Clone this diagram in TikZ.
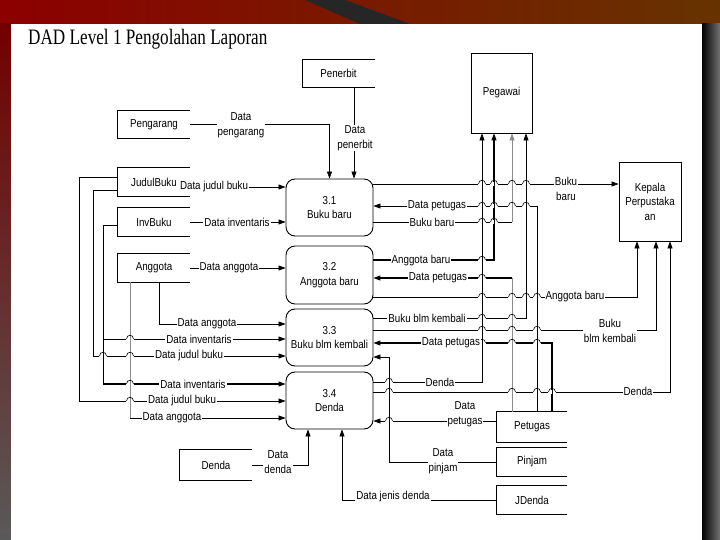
\documentclass[tikz,border=0pt]{standalone}
\usepackage{fontspec}
\newfontfamily\dfdfont[FakeStretch=0.85]{Liberation Sans}
\newfontfamily\titlefont[FakeStretch=0.78]{Liberation Serif}
\newcommand{\dfd}{\dfdfont\fontsize{11.5}{14.5}\selectfont}
\usetikzlibrary{arrows.meta}
\newcommand{\openside}[2][line width=0.8pt]{%
  \draw[#1] (#2.north east) -- (#2.north west) -- (#2.south west) -- (#2.south east);}
\newcommand{\hop}[3][black]{%
  \fill[white] (#2-4,#3-1.6) rectangle (#2+4,#3+1.6);
  \draw[#1,line width=0.6pt] (#2,#3-5) -- (#2,#3+5);
  \draw[line width=0.6pt] (#2-3.5,#3) .. controls (#2-3.5,#3-5) and (#2+3.5,#3-5) .. (#2+3.5,#3);}

\begin{document}
\begin{tikzpicture}[x=1pt,y=-1pt,
  proc/.style={draw,line width=0.9pt,rounded corners=9pt,minimum width=87pt,minimum height=57pt,inner sep=2pt,align=center,font=\dfd},
  ent/.style={draw,line width=0.8pt,align=center,font=\dfd},
  store/.style={minimum width=72pt,minimum height=28pt,font=\dfd},
  lbl/.style={fill=white,inner sep=1pt,align=center,font=\dfd},
  link/.style={line width=0.6pt},
  flow/.style={line width=0.6pt,-{Triangle[length=7pt,width=5pt]}},
  faint/.style={black!45}]
  \useasboundingbox (0,0) rectangle (720,540);
  \fill[black!80] (0,0) rectangle (720,540);
  \shade[left color=red!55!black,right color=orange!40!black] (0,0) rectangle (720,24);
  \fill[black!85] (305,0) -- (345,0) -- (410,24) -- (360,24) -- cycle;
  \shade[top color=red!45!black,bottom color=black!65] (0,24) rectangle (11,540);
  \shade[left color=black,right color=black!55] (702,24) rectangle (720,540);
  \fill[white] (11,24) rectangle (702,540);

  \node[anchor=base west,inner sep=0pt,font=\titlefont\fontsize{22}{24}\selectfont] (title) at (28,45) {DAD Level 1 Pengolahan Laporan};

  \node[store] (penerbit) at (338.5,73.5) {Penerbit};
  \node[store] (pengarang) at (154,124.5) {Pengarang};
  \node[store] (judulbuku) at (154,182) {JudulBuku};
  \node[store] (invbuku) at (154,222) {InvBuku};
  \node[store] (anggota) at (154,268) {Anggota};
  \node[store,minimum height=30pt] (denda) at (216,465) {Denda};
  \node[store,minimum width=70pt,minimum height=30pt] (petugas) at (532,427) {Petugas};
  \node[store,minimum width=70pt] (pinjam) at (532,462) {Pinjam};
  \node[store,minimum width=70pt] (jdenda) at (532,500) {JDenda};
  \node[ent,minimum width=61pt,minimum height=80pt] (pegawai) at (501.5,93) {Pegawai};
  \node[ent,minimum width=62pt,minimum height=79pt] (kepala) at (650,201.5) {Kepala\\Perpustaka\\an};
  \node[proc] (p31) at (329.5,207.5) {3.1\\Buku baru};
  \node[proc,minimum height=58pt] (p32) at (329.5,275) {3.2\\Anggota baru};
  \node[proc] (p33) at (329.5,337.5) {3.3\\Buku blm kembali};
  \node[proc] (p34) at (329.5,400.5) {3.4\\Denda};
  \openside{penerbit}
  \openside{pengarang}
  \openside[line width=1.3pt]{judulbuku}
  \openside{invbuku}
  \openside{anggota}
  \openside{denda}
  \openside[line width=1.3pt]{petugas}
  \openside{pinjam}
  \openside{jdenda}

  \coordinate (bj1) at (79,0);
  \coordinate (bj2) at (93,0);
  \coordinate (bi) at (103,0);
  \coordinate (ba1) at (130,0);
  \coordinate (ba2) at (159,0);
  \coordinate (pn) at (354,0);
  \coordinate (pg1) at (482,0);
  \coordinate (pg2) at (494,0);
  \coordinate (pg3) at (512,0);
  \coordinate (pg4) at (526,0);
  \coordinate (pt1) at (537,0);
  \coordinate (pt2) at (552,0);
  \coordinate (kp1) at (637,0);
  \coordinate (kp2) at (656,0);
  \coordinate (kp3) at (670,0);
  \coordinate (pj) at (389,0);
  \coordinate (dd) at (308,0);
  \coordinate (jd) at (342,0);

  \draw[flow] (pengarang.east) -| (p31.north);
  \draw[flow] (penerbit.south -| pn) -- (p31.north -| pn);
  \draw[flow] (judulbuku.east |- 0,187) -- (p31.west |- 0,187);
  \draw[flow] (invbuku.east) -- (p31.west |- invbuku.east);
  \draw[flow] (anggota.east) -- (p32.west |- anggota.east);
  \draw[flow] (anggota.south -| ba2) |- (p33.west |- 0,324);
  \draw[flow] (invbuku.west |- 0,225) -| (bi |- 0,339) -- (p33.west |- 0,339);
  \draw[flow] (judulbuku.west |- 0,190) -| (bj2 |- 0,356) -- (p33.west |- 0,356);
  \draw[link] (invbuku.west |- 0,225) -| (bi |- 0,384);
  \draw[flow,line width=1.1pt] (bi |- 0,384) -- (p34.west |- 0,384);
  \draw[flow] (judulbuku.west |- 0,177) -| (bj1 |- 0,401) -- (p34.west |- 0,401);
  \draw[link,faint] (anggota.south -| ba1) -- (ba1 |- 0,418);
  \draw[flow] (ba1 |- 0,418) -- (p34.west |- 0,418);

  \draw[flow] (p31.east |- 0,184) -- (kepala.west |- 0,184);
  \draw[flow] (petugas.north -| pt1) |- (p31.east |- 0,206);
  \draw[link] (p31.east |- 0,222) -- (pg3 |- 0,222);
  \draw[flow,faint] (pg3 |- 0,222) -- (pegawai.south -| pg3);
  \draw[flow,line width=1.1pt] (p32.east |- 0,260) -| (pegawai.south -| pg2);
  \draw[link,faint] (petugas.north -| pg3) -- (pg3 |- 0,278);
  \draw[flow,line width=1.1pt] (pg3 |- 0,278) -- (p32.east |- 0,278);
  \draw[flow] (p32.east |- 0,297) -| (kepala.south -| kp1);
  \draw[flow] (p33.east |- 0,318) -| (pegawai.south -| pg4);
  \draw[flow] (p33.east |- 0,330) -| (kepala.south -| kp2);
  \draw[flow,line width=1.1pt] (petugas.north -| pt2) |- (p33.east |- 0,343);
  \draw[flow] (pinjam.west) -| (pj |- 0,357) -- (p33.east |- 0,357);
  \draw[flow] (p34.east |- 0,382) -| (pegawai.south -| pg1);
  \draw[flow] (p34.east |- 0,392) -| (kepala.south -| kp3);
  \draw[flow] (petugas.west |- 0,421) -- (p34.east |- 0,421);
  \draw[flow] (denda.east) -| (p34.south -| dd);
  \draw[flow] (jdenda.west) -| (p34.south -| jd);

  \foreach \x/\y in {482/184,494/184,526/184,482/206,494/206,526/206,482/222,494/222,
    482/260,482/278,482/297,526/297,537/297,482/318,482/330,537/330,482/343,537/343,
    389/382,389/392,537/392,552/392,389/421,103/356}
    {\hop{\x}{\y}}
  \foreach \x/\y in {512/184,512/206,512/297,512/318,512/330,512/343,512/392,
    130/339,130/356,130/384,130/401}
    {\hop[faint]{\x}{\y}}

  \node[lbl] (lpengarang) at (241,125) {Data\\pengarang};
  \node[lbl] (lpenerbit) at (355,138) {Data\\penerbit};
  \node[lbl] (ljudul1) at (214,187) {Data judul buku};
  \node[lbl] (linv1) at (237,222) {Data inventaris};
  \node[lbl] (lang1) at (229,268) {Data anggota};
  \node[lbl] (lang2) at (207,324) {Data anggota};
  \node[lbl] (linv2) at (199,339) {Data inventaris};
  \node[lbl] (ljudul2) at (189,356) {Data judul buku};
  \node[lbl] (linv3) at (193,384) {Data inventaris};
  \node[lbl] (ljudul3) at (182,401) {Data judul buku};
  \node[lbl] (lang3) at (172,418) {Data anggota};
  \node[lbl] (lbaru1) at (566,189) {Buku\\baru};
  \node[lbl] (lpet1) at (437,206) {Data petugas};
  \node[lbl] (lbaru2) at (432,222) {Buku baru};
  \node[lbl] (lagt1) at (421,261) {Anggota baru};
  \node[lbl] (lpet2) at (438,278) {Data petugas};
  \node[lbl] (lagt2) at (575,297) {Anggota baru};
  \node[lbl] (lblm1) at (427,318) {Buku blm kembali};
  \node[lbl] (lblm2) at (610,331) {Buku\\blm kembali};
  \node[lbl] (lpet3) at (451,343) {Data petugas};
  \node[lbl] (lden1) at (440,382) {Denda};
  \node[lbl] (lden2) at (638,391) {Denda};
  \node[lbl] (lpet4) at (465,414) {Data\\petugas};
  \node[lbl] (lpinjam) at (443,461) {Data\\pinjam};
  \node[lbl] (ldenda) at (278,462) {Data\\denda};
  \node[lbl] (ljenis) at (393,497) {Data jenis denda};
\end{tikzpicture}
\end{document}
